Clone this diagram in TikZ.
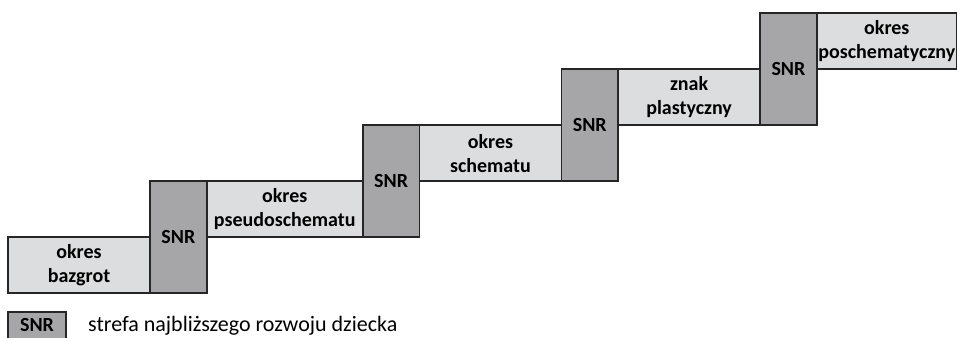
\documentclass[tikz,border=0pt]{standalone}
\usepackage{fontspec}
\setmainfont{Carlito}
\usetikzlibrary{positioning}
\definecolor{snrgray}{RGB}{166,166,168}
\definecolor{periodgray}{RGB}{220,221,222}
\definecolor{edgegray}{RGB}{38,38,38}

\begin{document}
\begin{tikzpicture}[x=1pt,y=-1pt, node distance=22pt, period/.style={draw=edgegray,fill=periodgray,line width=1.8pt,outer sep=0pt,inner sep=0pt,minimum width=142pt,minimum height=56pt,align=center,font=\fontsize{20}{24}\selectfont\bfseries}, snr/.style={draw=edgegray,fill=snrgray,line width=1.8pt,outer sep=0pt,inner sep=0pt,minimum width=56.7pt,minimum height=112pt,font=\fontsize{20}{24}\selectfont\bfseries}]
\useasboundingbox (0,0) rectangle (957,337);
\node[period,anchor=south west] (bazgrot) at (8,293.3) {okres\\bazgrot};
\node[snr,anchor=south west] (snr1) at (bazgrot.south east) {SNR};
\node[period,anchor=north west,minimum width=156pt] (pseudo) at (snr1.north east) {okres\\pseudoschematu};
\node[snr,anchor=south west] (snr2) at (pseudo.south east) {SNR};
\node[period,anchor=north west] (schemat) at (snr2.north east) {okres\\schematu};
\node[snr,anchor=south west] (snr3) at (schemat.south east) {SNR};
\node[period,anchor=north west] (znak) at (snr3.north east) {znak\\plastyczny};
\node[snr,anchor=south west] (snr4) at (znak.south east) {SNR};
\node[period,anchor=north west,minimum width=140pt] (poschemat) at (snr4.north east) {okres\\poschematyczny};
% legenda
\node[snr,anchor=north west,minimum width=58pt,minimum height=26.5pt] (legsnr) at (8,312) {SNR};
\node[right=of legsnr,inner sep=0pt,font=\fontsize{22}{26}\selectfont] (legtext) {strefa najbliższego rozwoju dziecka};
\end{tikzpicture}
\end{document}
